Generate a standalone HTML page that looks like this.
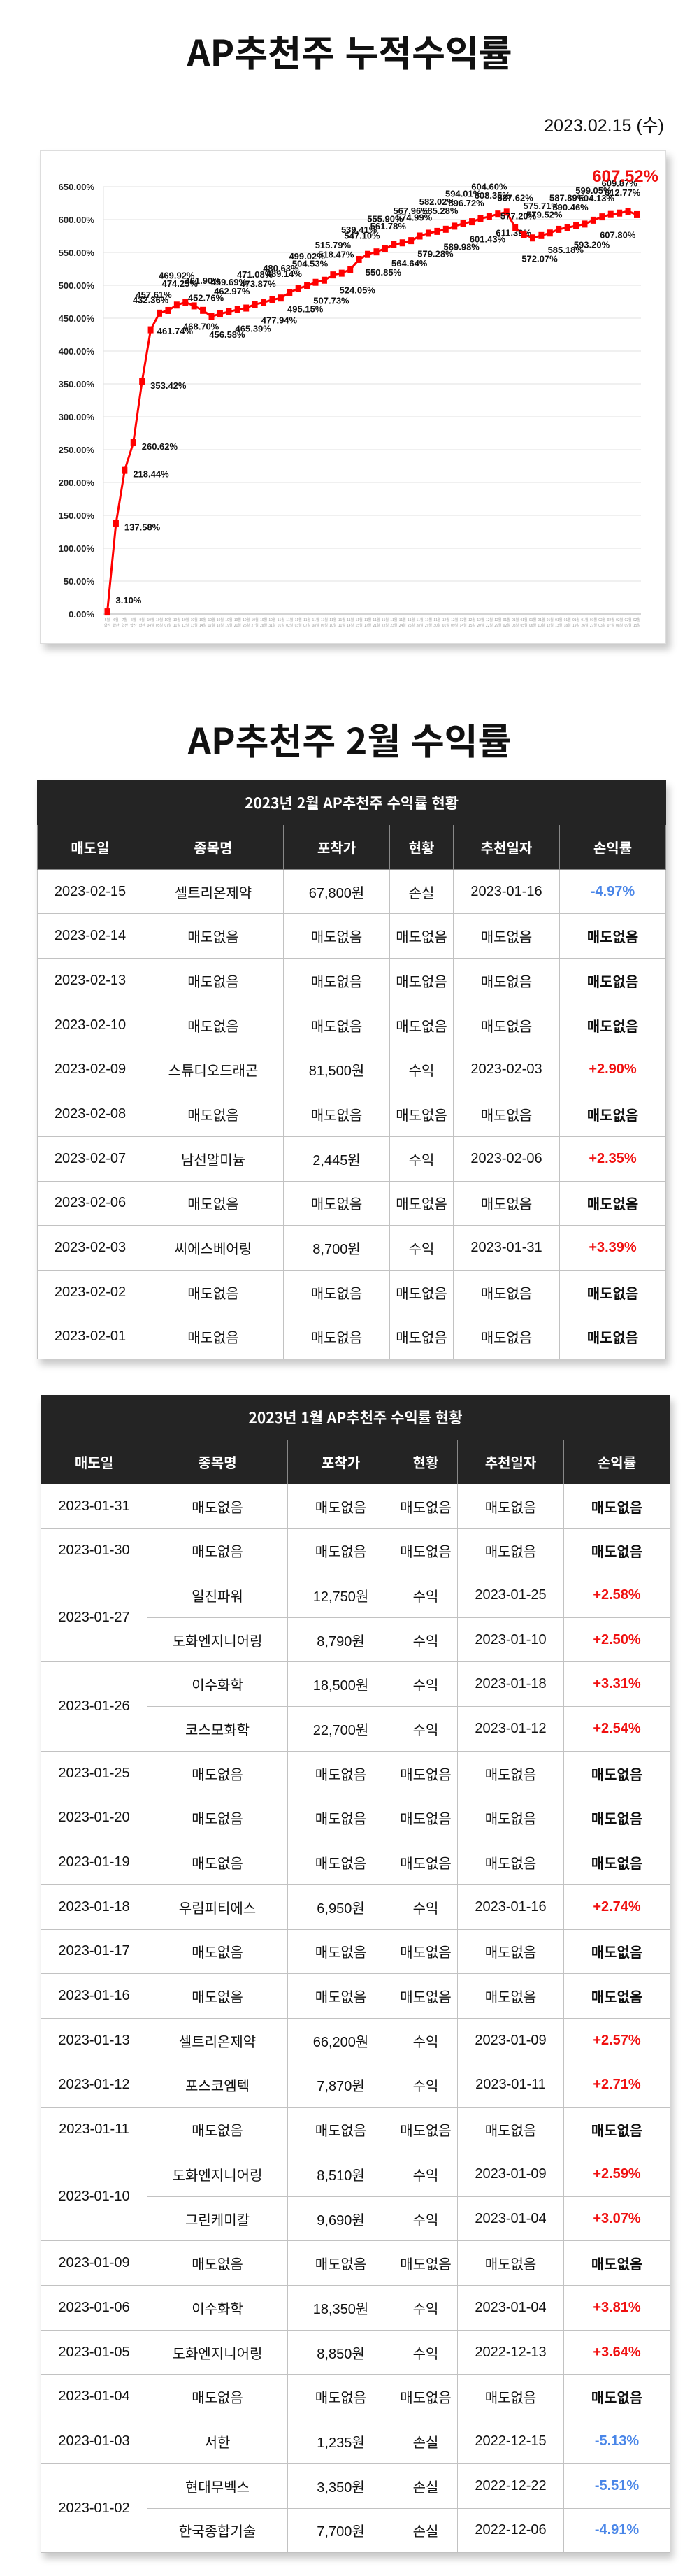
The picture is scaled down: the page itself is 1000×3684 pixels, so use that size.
<!DOCTYPE html>
<html lang="ko"><head><meta charset="utf-8">
<style>
*{margin:0;padding:0;box-sizing:border-box}
body{width:1000px;height:3684px;background:#fff;position:relative;font-family:"Liberation Sans","Noto Sans CJK KR",sans-serif;color:#111;overflow:hidden}
.title{position:absolute;left:0;width:1000px;text-align:center;font-family:"Noto Sans CJK KR","Liberation Sans",sans-serif;font-weight:700;font-size:52px;line-height:60px;color:#111}
.date{position:absolute;right:50px;top:164px;font-family:"Liberation Sans","Noto Sans CJK KR",sans-serif;font-size:25px;line-height:32px;color:#111}
.card{position:absolute;left:57px;top:215px;width:896px;height:706px;background:#fff;border:1px solid #ddd;box-shadow:6px 8px 10px rgba(0,0,0,.22)}
table{position:absolute;border-collapse:collapse;table-layout:fixed;background:#fff;box-shadow:4px 8px 10px rgba(0,0,0,.22);font-family:"Liberation Sans","Noto Sans CJK KR",sans-serif}
td,th{border:1px solid #c2c2c2;text-align:center;font-size:20px;font-weight:400;height:63.7px;color:#111}
th{background:#242424;color:#fff;font-weight:700;border-color:#888;font-family:"Noto Sans CJK KR",sans-serif}
th.cap{height:63px;font-size:21px;border-color:#242424}
td.r{font-weight:700}
.neg{color:#4a86e8}.pos{color:#f01010}
</style></head><body>
<div class="title" style="top:43px">AP추천주 누적수익률</div>
<div class="date">2023.02.15 (수)</div>
<div class="card"></div>
<svg id="chart" style="position:absolute;left:57px;top:215px" width="896" height="706" viewBox="57 215 896 706"></svg>

<div class="title" style="top:1027px">AP추천주 2월 수익률</div>

<table style="left:53px;top:1116px;width:899px">
<colgroup><col style="width:151px"><col style="width:201px"><col style="width:152px"><col style="width:91px"><col style="width:152px"><col style="width:152px"></colgroup>
<tr><th class="cap" colspan="6">2023년 2월 AP추천주 수익률 현황</th></tr>
<tr><th>매도일</th><th>종목명</th><th>포착가</th><th>현황</th><th>추천일자</th><th>손익률</th></tr>
<tr><td>2023-02-15</td><td>셀트리온제약</td><td>67,800원</td><td>손실</td><td>2023-01-16</td><td class="r neg">-4.97%</td></tr>
<tr><td>2023-02-14</td><td>매도없음</td><td>매도없음</td><td>매도없음</td><td>매도없음</td><td class="r">매도없음</td></tr>
<tr><td>2023-02-13</td><td>매도없음</td><td>매도없음</td><td>매도없음</td><td>매도없음</td><td class="r">매도없음</td></tr>
<tr><td>2023-02-10</td><td>매도없음</td><td>매도없음</td><td>매도없음</td><td>매도없음</td><td class="r">매도없음</td></tr>
<tr><td>2023-02-09</td><td>스튜디오드래곤</td><td>81,500원</td><td>수익</td><td>2023-02-03</td><td class="r pos">+2.90%</td></tr>
<tr><td>2023-02-08</td><td>매도없음</td><td>매도없음</td><td>매도없음</td><td>매도없음</td><td class="r">매도없음</td></tr>
<tr><td>2023-02-07</td><td>남선알미늄</td><td>2,445원</td><td>수익</td><td>2023-02-06</td><td class="r pos">+2.35%</td></tr>
<tr><td>2023-02-06</td><td>매도없음</td><td>매도없음</td><td>매도없음</td><td>매도없음</td><td class="r">매도없음</td></tr>
<tr><td>2023-02-03</td><td>씨에스베어링</td><td>8,700원</td><td>수익</td><td>2023-01-31</td><td class="r pos">+3.39%</td></tr>
<tr><td>2023-02-02</td><td>매도없음</td><td>매도없음</td><td>매도없음</td><td>매도없음</td><td class="r">매도없음</td></tr>
<tr><td>2023-02-01</td><td>매도없음</td><td>매도없음</td><td>매도없음</td><td>매도없음</td><td class="r">매도없음</td></tr>
</table>

<table style="left:58px;top:1995px;width:900px">
<colgroup><col style="width:152px"><col style="width:201px"><col style="width:152px"><col style="width:91px"><col style="width:152px"><col style="width:152px"></colgroup>
<tr><th class="cap" colspan="6">2023년 1월 AP추천주 수익률 현황</th></tr>
<tr><th>매도일</th><th>종목명</th><th>포착가</th><th>현황</th><th>추천일자</th><th>손익률</th></tr>
<tr><td>2023-01-31</td><td>매도없음</td><td>매도없음</td><td>매도없음</td><td>매도없음</td><td class="r">매도없음</td></tr>
<tr><td>2023-01-30</td><td>매도없음</td><td>매도없음</td><td>매도없음</td><td>매도없음</td><td class="r">매도없음</td></tr>
<tr><td rowspan="2">2023-01-27</td><td>일진파워</td><td>12,750원</td><td>수익</td><td>2023-01-25</td><td class="r pos">+2.58%</td></tr>
<tr><td>도화엔지니어링</td><td>8,790원</td><td>수익</td><td>2023-01-10</td><td class="r pos">+2.50%</td></tr>
<tr><td rowspan="2">2023-01-26</td><td>이수화학</td><td>18,500원</td><td>수익</td><td>2023-01-18</td><td class="r pos">+3.31%</td></tr>
<tr><td>코스모화학</td><td>22,700원</td><td>수익</td><td>2023-01-12</td><td class="r pos">+2.54%</td></tr>
<tr><td>2023-01-25</td><td>매도없음</td><td>매도없음</td><td>매도없음</td><td>매도없음</td><td class="r">매도없음</td></tr>
<tr><td>2023-01-20</td><td>매도없음</td><td>매도없음</td><td>매도없음</td><td>매도없음</td><td class="r">매도없음</td></tr>
<tr><td>2023-01-19</td><td>매도없음</td><td>매도없음</td><td>매도없음</td><td>매도없음</td><td class="r">매도없음</td></tr>
<tr><td>2023-01-18</td><td>우림피티에스</td><td>6,950원</td><td>수익</td><td>2023-01-16</td><td class="r pos">+2.74%</td></tr>
<tr><td>2023-01-17</td><td>매도없음</td><td>매도없음</td><td>매도없음</td><td>매도없음</td><td class="r">매도없음</td></tr>
<tr><td>2023-01-16</td><td>매도없음</td><td>매도없음</td><td>매도없음</td><td>매도없음</td><td class="r">매도없음</td></tr>
<tr><td>2023-01-13</td><td>셀트리온제약</td><td>66,200원</td><td>수익</td><td>2023-01-09</td><td class="r pos">+2.57%</td></tr>
<tr><td>2023-01-12</td><td>포스코엠텍</td><td>7,870원</td><td>수익</td><td>2023-01-11</td><td class="r pos">+2.71%</td></tr>
<tr><td>2023-01-11</td><td>매도없음</td><td>매도없음</td><td>매도없음</td><td>매도없음</td><td class="r">매도없음</td></tr>
<tr><td rowspan="2">2023-01-10</td><td>도화엔지니어링</td><td>8,510원</td><td>수익</td><td>2023-01-09</td><td class="r pos">+2.59%</td></tr>
<tr><td>그린케미칼</td><td>9,690원</td><td>수익</td><td>2023-01-04</td><td class="r pos">+3.07%</td></tr>
<tr><td>2023-01-09</td><td>매도없음</td><td>매도없음</td><td>매도없음</td><td>매도없음</td><td class="r">매도없음</td></tr>
<tr><td>2023-01-06</td><td>이수화학</td><td>18,350원</td><td>수익</td><td>2023-01-04</td><td class="r pos">+3.81%</td></tr>
<tr><td>2023-01-05</td><td>도화엔지니어링</td><td>8,850원</td><td>수익</td><td>2022-12-13</td><td class="r pos">+3.64%</td></tr>
<tr><td>2023-01-04</td><td>매도없음</td><td>매도없음</td><td>매도없음</td><td>매도없음</td><td class="r">매도없음</td></tr>
<tr><td>2023-01-03</td><td>서한</td><td>1,235원</td><td>손실</td><td>2022-12-15</td><td class="r neg">-5.13%</td></tr>
<tr><td rowspan="2">2023-01-02</td><td>현대무벡스</td><td>3,350원</td><td>손실</td><td>2022-12-22</td><td class="r neg">-5.51%</td></tr>
<tr><td>한국종합기술</td><td>7,700원</td><td>손실</td><td>2022-12-06</td><td class="r neg">-4.91%</td></tr>
</table>

<script>
const yTicks = [0,50,100,150,200,250,300,350,400,450,500,550,600,650];
const months = ["5월","6월","7월","8월","9월","10월","10월","10월","10월","10월","10월","10월","10월","10월","10월","10월","10월","10월","10월","10월","11월","11월","11월","11월","11월","11월","11월","11월","11월","11월","11월","11월","11월","11월","11월","11월","11월","11월","11월","12월","12월","12월","12월","12월","12월","12월","01월","01월","01월","01월","01월","01월","01월","01월","01월","01월","01월","02월","02월","02월","02월","02월"];
const days = ["합산","합산","합산","합산","합산","04일","05일","07일","11일","12일","13일","14일","17일","18일","19일","21일","26일","27일","28일","31일","01일","02일","03일","07일","08일","09일","10일","11일","14일","15일","17일","21일","22일","23일","24일","25일","28일","29일","30일","01일","09일","14일","15일","20일","22일","29일","02일","03일","05일","06일","10일","12일","13일","18일","19일","26일","27일","03일","07일","08일","09일","15일"];
const returns = [3.10,137.58,218.44,260.62,353.42,432.36,457.61,461.74,469.92,474.25,468.70,461.90,452.76,456.58,459.69,462.97,465.39,471.08,473.87,477.94,480.63,489.14,495.15,499.02,504.53,507.73,515.79,518.47,524.05,539.41,547.10,550.85,555.90,561.78,564.64,567.96,574.99,579.28,582.02,585.28,589.98,594.01,596.72,601.43,604.60,608.35,611.39,587.62,577.20,572.07,575.71,579.52,585.18,587.89,590.46,593.20,599.05,604.13,607.80,609.87,612.77,607.52];

const NS='http://www.w3.org/2000/svg';
const svg=document.getElementById('chart');
const X0=153.5, X1=911, Y0=878, Y1=267, VMAX=650;
function xPos(i){return X0+i*(X1-X0)/(returns.length-1);}
function yPos(v){return Y0-(v/VMAX)*(Y0-Y1);}
function mk(tag,attrs){const e=document.createElementNS(NS,tag);for(const k in attrs)e.setAttribute(k,attrs[k]);svg.appendChild(e);return e;}

yTicks.forEach(t=>{
  const g=mk('line',{x1:148,x2:917,y1:yPos(t),y2:yPos(t),stroke:t===0?'#c8c8c8':'#ececec','stroke-width':1.5});
  
  
  const tx=mk('text',{x:135,y:yPos(t)+5,'text-anchor':'end','font-size':13,'font-weight':700,'font-family':'Liberation Sans, sans-serif',fill:'#222'});
  tx.textContent=t.toFixed(2)+'%';
  
  
});
const ax=mk('line',{x1:148,x2:148,y1:Y1,y2:Y0,stroke:'#e2e2e2','stroke-width':1});



months.forEach((m,i)=>{
  const t1=mk('text',{x:xPos(i),y:888,'text-anchor':'middle','font-size':5,fill:'#999','font-family':'Noto Sans CJK KR, sans-serif'});
  t1.textContent=m;
  
  
  const t2=mk('text',{x:xPos(i),y:896,'text-anchor':'middle','font-size':5,fill:'#999','font-family':'Noto Sans CJK KR, sans-serif'});
  t2.textContent=days[i];
  
  
});

const pts=returns.map((v,i)=>xPos(i)+','+yPos(v)).join(' ');
const line=mk('polyline',{points:pts,fill:'none',stroke:'#f00','stroke-width':3,'stroke-linejoin':'round'});



returns.forEach((v,i)=>{
  const r=mk('rect',{x:xPos(i)-4,y:yPos(v)-5,width:8,height:10,fill:'#f00'});
  
  
  if(i===returns.length-1)return;
  const k=i%3;
  const lx=i<5?xPos(i)+12:xPos(i)+(k===0?-8:(k===1?10:0));
  const ly=i<5?yPos(v)-8+(i===0?-4:18):yPos(v)+(k===0?-22:(k===1?34:-38));
  const t=mk('text',{x:lx,y:ly,'text-anchor':i<5?'start':'middle','font-size':13,'font-weight':700,'font-family':'Liberation Sans, sans-serif',fill:'#111'});
  t.textContent=v.toFixed(2)+'%';
  
  
});
const last=mk('text',{x:942,y:260,'text-anchor':'end','font-size':24,'font-weight':700,'font-family':'Liberation Sans, sans-serif',fill:'#f01010'});
last.textContent=returns[returns.length-1].toFixed(2)+'%';


</script>
</body></html>
